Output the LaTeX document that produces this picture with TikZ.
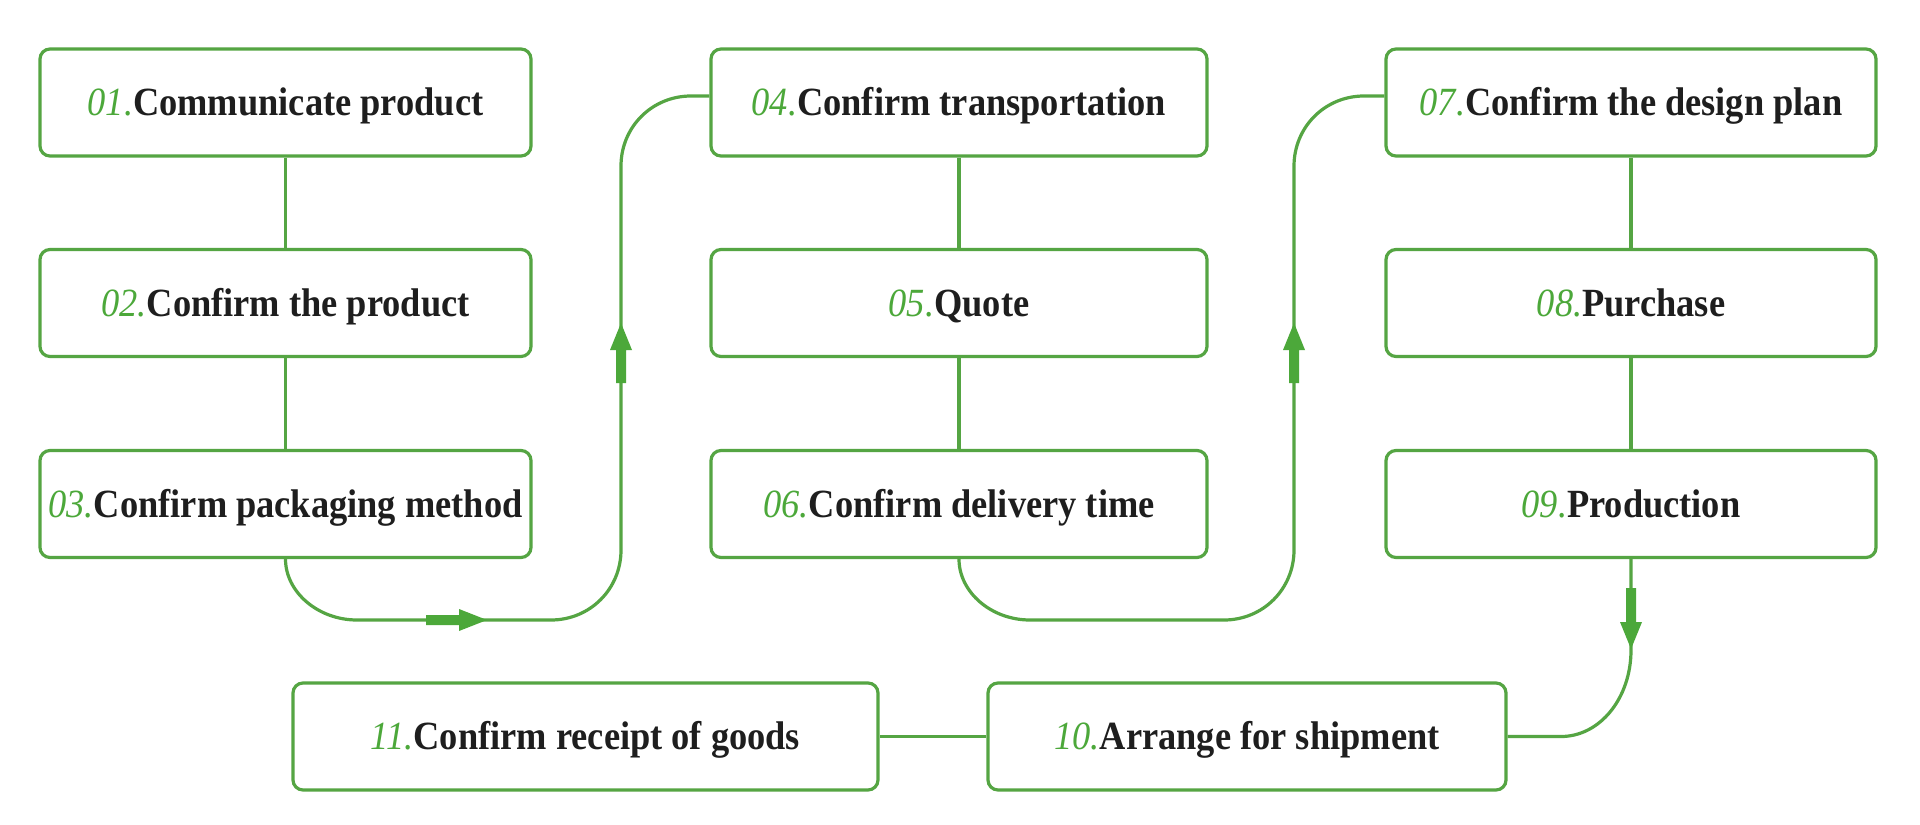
\documentclass[tikz,border=0pt]{standalone}
\usepackage{fontspec}
\setmainfont[FakeStretch=0.91]{Liberation Serif}
\definecolor{gline}{HTML}{55A543}
\definecolor{gnum}{HTML}{4CA83A}
\definecolor{gtext}{HTML}{1E1E1E}
\begin{document}
\begin{tikzpicture}[x=0.5pt,y=-0.5pt,
  box/.style={draw=gline, line width=1.6pt, rounded corners=5pt, fill=white,
    inner sep=0pt, text height=13pt, text depth=0pt,
    font=\fontsize{20}{22}\selectfont\bfseries, text=gtext},
  conn/.style={draw=gline, line width=1.6pt},
  arr/.style={fill=gnum, draw=none}]
\useasboundingbox[fill=white] (0,0) rectangle (1920,824);
\newcommand{\lbl}[2]{{\color{gnum}\mdseries\itshape #1.}#2}
% boxes
\node[box, minimum width=245.5pt, minimum height=53.5pt] (b1) at (285.5,102.5) {\lbl{01}{Communicate product}};
\node[box, minimum width=245.5pt, minimum height=53.5pt] (b2) at (285.5,303) {\lbl{02}{Confirm the product}};
\node[box, minimum width=245.5pt, minimum height=53.5pt] (b3) at (285.5,504) {\lbl{03}{Confirm packaging method}};
\node[box, minimum width=248pt, minimum height=53.5pt] (b4) at (959,102.5) {\lbl{04}{Confirm transportation}};
\node[box, minimum width=248pt, minimum height=53.5pt] (b5) at (959,303) {\lbl{05}{Quote}};
\node[box, minimum width=248pt, minimum height=53.5pt] (b6) at (959,504) {\lbl{06}{Confirm delivery time}};
\node[box, minimum width=245pt, minimum height=53.5pt] (b7) at (1631,102.5) {\lbl{07}{Confirm the design plan}};
\node[box, minimum width=245pt, minimum height=53.5pt] (b8) at (1631,303) {\lbl{08}{Purchase}};
\node[box, minimum width=245pt, minimum height=53.5pt] (b9) at (1631,504) {\lbl{09}{Production}};
\node[box, minimum width=292.5pt, minimum height=53.5pt] (b11) at (585.5,736.5) {\lbl{11}{Confirm receipt of goods}};
\node[box, minimum width=259pt, minimum height=53.5pt] (b10) at (1247,736.5) {\lbl{10}{Arrange for shipment}};
% vertical links
\draw[conn] (b1.south) -- (b2.north);
\draw[conn] (b2.south) -- (b3.north);
\draw[conn] (b4.south) -- (b5.north);
\draw[conn] (b5.south) -- (b6.north);
\draw[conn] (b7.south) -- (b8.north);
\draw[conn] (b8.south) -- (b9.north);
\draw[conn] (b10.west) -- (b11.east);
% connector 3 -> 4
\coordinate (p1) at (357,620);
\coordinate (p2) at (551,620);
\coordinate (p3) at (621,550);
\coordinate (p4) at (621,166);
\coordinate (p5) at (691,96);
\draw[conn] (b3.south) .. controls (285.5,592) and (318,620) .. (p1) -- (p2)
  .. controls (590,620) and (621,589) .. (p3) -- (p4)
  .. controls (621,127) and (652,96) .. (p5) -- (p5 -| b4.west);
% connector 6 -> 7
\coordinate (q1) at (1030,620);
\coordinate (q2) at (1224,620);
\coordinate (q3) at (1294,550);
\coordinate (q4) at (1294,166);
\coordinate (q5) at (1364,96);
\draw[conn] (b6.south) .. controls (959,592) and (991,620) .. (q1) -- (q2)
  .. controls (1263,620) and (1294,589) .. (q3) -- (q4)
  .. controls (1294,127) and (1325,96) .. (q5) -- (q5 -| b7.west);
% connector 9 -> 10
\coordinate (r1) at (1631,650);
\coordinate (r2) at (1561,736.5);
\draw[conn] (b9.south) -- (r1) .. controls (1631,698) and (1600,736.5) .. (r2) -- (b10.east);
% arrows
\fill[arr] (426,615) -- (459,615) -- (459,609) -- (487,620) -- (459,631) -- (459,625) -- (426,625) -- cycle;
\fill[arr] (616,383) -- (616,350) -- (610,350) -- (621,323) -- (632,350) -- (626,350) -- (626,383) -- cycle;
\fill[arr] (1289,383) -- (1289,350) -- (1283,350) -- (1294,323) -- (1305,350) -- (1299,350) -- (1299,383) -- cycle;
\fill[arr] (1626,588) -- (1626,622) -- (1620,622) -- (1631,649) -- (1642,622) -- (1636,622) -- (1636,588) -- cycle;
\end{tikzpicture}
\end{document}
